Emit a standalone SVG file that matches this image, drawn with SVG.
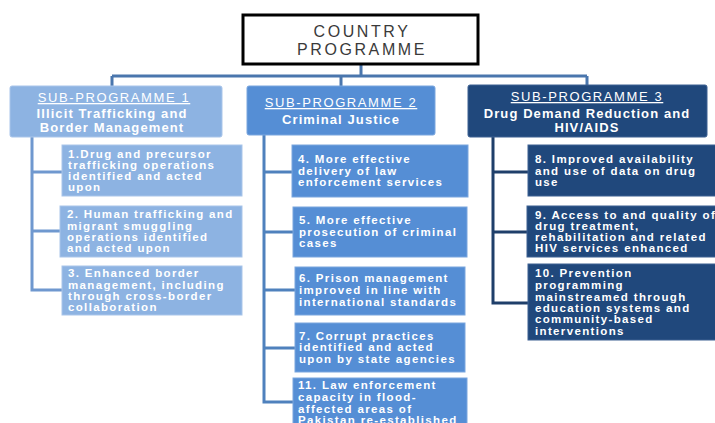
<svg xmlns="http://www.w3.org/2000/svg" width="715" height="423" viewBox="0 0 715 423">
<style>
.bg{fill:#ffffff}
.root{fill:#ffffff;stroke:#000000;stroke-width:3}
.rt{font-family:"Liberation Sans",Arial,sans-serif;font-size:16px;fill:#3a3a3a;letter-spacing:2.6px;text-anchor:middle}
.c1{fill:#8db3e2;stroke:#a9c5ea;stroke-width:1}
.c2{fill:#558ed5;stroke:#7aa6de;stroke-width:1}
.c3{fill:#20487c;stroke:#3d6192;stroke-width:1}
.hd{font-family:"Liberation Sans",Arial,sans-serif;font-size:13px;fill:#ffffff;letter-spacing:1.6px;text-anchor:middle;text-decoration:underline}
.hs{font-family:"Liberation Sans",Arial,sans-serif;font-size:13px;font-weight:bold;fill:#ffffff;letter-spacing:1.1px;text-anchor:middle}
.t{font-family:"Liberation Sans",Arial,sans-serif;font-size:11.5px;font-weight:bold;fill:#ffffff;letter-spacing:1.35px}
.ln{fill:none;stroke-width:3;stroke-linejoin:miter}
.l0{stroke:#4a76ad}
.l1{stroke:#6f98cf}
.l2{stroke:#4f81bd}
.l3{stroke:#1f3f6a}
</style>
<rect class="bg" x="0" y="0" width="715" height="423"/>
<g id="connectors">
<path class="ln l0" d="M361 64 V76 M112 76 H587 M112 76 V86 M341 76 V86 M587 76 V85"/>
<path class="ln l1" d="M32 137 V290 H62 M32 172 H62 M32 231 H60"/>
<path class="ln l2" d="M264 135 V402 H293 M264 172 H292 M264 232 H293 M264 290 H295 M264 348 H295"/>
<path class="ln l3" d="M493 137 V303 H528 M493 172 H528 M493 232 H527"/>
</g>
<g id="country">
<rect class="root" x="243" y="15" width="235" height="49"/>
<text class="rt" x="362" y="37">COUNTRY</text>
<text class="rt" x="362" y="55">PROGRAMME</text>
</g>
<g id="sub1">
<rect class="c1" x="10" y="86" width="212" height="51" rx="2"/>
<text class="hd" x="114" y="102">SUB-PROGRAMME 1</text>
<text class="hs" x="112" y="118">Illicit Trafficking and</text>
<text class="hs" x="112" y="132">Border Management</text>
</g>
<g id="sub2">
<rect class="c2" x="247" y="86" width="188" height="49" rx="2"/>
<text class="hd" x="341" y="107">SUB-PROGRAMME 2</text>
<text class="hs" x="341" y="124">Criminal Justice</text>
</g>
<g id="sub3">
<rect class="c3" x="468" y="85" width="239" height="52" rx="2"/>
<text class="hd" x="587" y="101">SUB-PROGRAMME 3</text>
<text class="hs" x="587" y="118">Drug Demand Reduction and</text>
<text class="hs" x="587" y="132">HIV/AIDS</text>
</g>
<g id="o1">
<rect class="c1" x="62" y="145" width="180" height="51"/>
<text class="t"><tspan x="68" y="158">1.Drug and precursor</tspan><tspan x="68" y="169">trafficking operations</tspan><tspan x="68" y="180">identified and acted</tspan><tspan x="68" y="191">upon</tspan></text>
</g>
<g id="o2">
<rect class="c1" x="60" y="206" width="182" height="51"/>
<text class="t"><tspan x="67" y="218">2. Human trafficking and</tspan><tspan x="67" y="230">migrant smuggling</tspan><tspan x="67" y="241">operations identified</tspan><tspan x="67" y="252">and acted upon</tspan></text>
</g>
<g id="o3">
<rect class="c1" x="62" y="266" width="180" height="49"/>
<text class="t"><tspan x="68" y="277">3. Enhanced border</tspan><tspan x="68" y="289">management, including</tspan><tspan x="68" y="300">through cross-border</tspan><tspan x="68" y="311">collaboration</tspan></text>
</g>
<g id="o4">
<rect class="c2" x="292" y="145" width="176" height="52"/>
<text class="t"><tspan x="298" y="163">4. More effective</tspan><tspan x="298" y="175">delivery of law</tspan><tspan x="298" y="186">enforcement services</tspan></text>
</g>
<g id="o5">
<rect class="c2" x="293" y="207" width="174" height="50"/>
<text class="t"><tspan x="299" y="224">5. More effective</tspan><tspan x="299" y="236">prosecution of criminal</tspan><tspan x="299" y="247">cases</tspan></text>
</g>
<g id="o6">
<rect class="c2" x="295" y="267" width="170" height="48"/>
<text class="t"><tspan x="299" y="282">6. Prison management</tspan><tspan x="299" y="294">improved in line with</tspan><tspan x="299" y="306">international standards</tspan></text>
</g>
<g id="o7">
<rect class="c2" x="295" y="323" width="170" height="49"/>
<text class="t"><tspan x="299" y="340">7. Corrupt practices</tspan><tspan x="299" y="351">identified and acted</tspan><tspan x="299" y="363">upon by state agencies</tspan></text>
</g>
<g id="o11">
<rect class="c2" x="293" y="378" width="174" height="50"/>
<text class="t"><tspan x="298" y="389">11. Law enforcement</tspan><tspan x="298" y="401">capacity in flood-</tspan><tspan x="298" y="413">affected areas of</tspan><tspan x="298" y="424">Pakistan re-established</tspan></text>
</g>
<g id="o8">
<rect class="c3" x="528" y="145" width="192" height="51"/>
<text class="t"><tspan x="535" y="163">8. Improved availability</tspan><tspan x="535" y="175">and use of data on drug</tspan><tspan x="535" y="186">use</tspan></text>
</g>
<g id="o9">
<rect class="c3" x="527" y="206" width="193" height="51"/>
<text class="t"><tspan x="535" y="219">9. Access to and quality of</tspan><tspan x="535" y="230">drug treatment,</tspan><tspan x="535" y="241">rehabilitation and related</tspan><tspan x="535" y="252">HIV services  enhanced</tspan></text>
</g>
<g id="o10">
<rect class="c3" x="528" y="264" width="192" height="76"/>
<text class="t"><tspan x="535" y="277">10. Prevention</tspan><tspan x="535" y="289">programming</tspan><tspan x="535" y="301">mainstreamed through</tspan><tspan x="535" y="312">education systems and</tspan><tspan x="535" y="323">community-based</tspan><tspan x="535" y="335">interventions</tspan></text>
</g>
</svg>
